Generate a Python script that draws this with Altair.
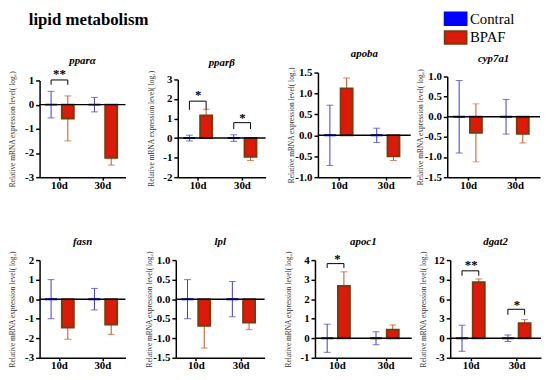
import altair as alt
import pandas as pd

SERIF = "Liberation Serif"

genes = ["pparα", "pparβ", "apoba", "cyp7a1", "fasn", "lpl", "apoc1", "dgat2"]
times = ["10d", "30d"]
groups = ["Contral", "BPAF"]

ctrl_mean = [[0, 0], [0, 0], [0, 0], [0, 0], [0, 0], [0, 0], [0, 0], [0, 0]]
ctrl_err = [[0.55, 0.30], [0.15, 0.17], [0.72, 0.17], [0.90, 0.43],
            [1.00, 0.55], [0.50, 0.45], [0.72, 0.33], [2.0, 0.5]]
bpaf_mean = [[-0.57, -2.2], [1.15, -0.95], [1.12, -0.50], [-0.40, -0.42],
             [-1.45, -1.30], [-0.68, -0.60], [2.68, 0.43], [8.6, 2.3]]
bpaf_err = [[0.93, 0.30], [0.32, 0.20], [0.25, 0.10], [0.72, 0.23],
            [0.60, 0.50], [0.57, 0.18], [0.72, 0.25], [0.50, 0.55]]

y_domains = [[-3, 1], [-2, 3], [-1.0, 1.5], [-1.5, 1.0],
             [-3, 2], [-1.5, 1.0], [-1, 4], [-3, 12]]
y_ticks = [[-3, -2, -1, 0, 1], [-2, -1, 0, 1, 2, 3],
           [-1.0, -0.5, 0, 0.5, 1.0, 1.5], [-1.5, -1.0, -0.5, 0, 0.5, 1.0],
           [-3, -2, -1, 0, 1, 2], [-1.5, -1.0, -0.5, 0, 0.5, 1.0],
           [-1, 0, 1, 2, 3, 4], [-3, 0, 3, 6, 9, 12]]
y_decimals = [0, 0, 1, 1, 0, 1, 0, 0]

sig_gene = ["pparα", "pparβ", "pparβ", "apoc1", "dgat2", "dgat2"]
sig_time = ["10d", "10d", "30d", "10d", "10d", "30d"]
sig_label = ["**", "*", "*", "*", "**", "*"]
sig_top = [1.02, 1.89, 0.79, 3.82, 10.35, 4.45]
sig_foot = [0.82, 1.45, 0.46, 3.60, 9.60, 3.60]
sig_star = [1.25, 2.20, 1.05, 4.05, 11.2, 5.1]

YTITLE = "Relative mRNA expression level( log\u2082)"


def make_panel(i, w, H, h, toff):
    g = genes[i]
    rows = []
    for j, t in enumerate(times):
        for grp, m, e in (("Contral", ctrl_mean[i][j], ctrl_err[i][j]),
                          ("BPAF", bpaf_mean[i][j], bpaf_err[i][j])):
            rows.append({"time": t, "group": grp, "mean": m, "base": 0,
                         "lo": m - e, "hi": m + e})
    df = pd.DataFrame(rows)

    dec = y_decimals[i]
    lab = "(datum.value < 0 ? '-' : '') + format(abs(datum.value), '.%df')" % dec
    y_scale = alt.Scale(domain=y_domains[i], range=[H, H - h], nice=False, zero=False)
    y_axis = alt.Axis(title=YTITLE, values=y_ticks[i], labelExpr=lab,
                      labelFont=SERIF, labelFontSize=11, labelFontWeight="bold",
                      labelColor="black", domainColor="black", domainWidth=1.5,
                      tickColor="black", tickWidth=1.5, tickSize=4, labelPadding=2,
                      minExtent=18, maxExtent=18, titleFont=SERIF, titleFontSize=7.5,
                      titleFontWeight="normal", titleColor="#333333",
                      titlePadding=5, grid=False)
    x_enc = alt.X("time:N", sort=times,
                  scale=alt.Scale(domain=times, paddingInner=0.34,
                                  paddingOuter=0.16, align=0.4),
                  axis=alt.Axis(title=None, labelAngle=0, labelFont=SERIF,
                                labelFontSize=11, labelFontWeight="bold",
                                labelColor="black", domainColor="black",
                                domainWidth=1.5, tickColor="black", tickWidth=1.5,
                                tickSize=3, labelPadding=-1, grid=False))
    xo_enc = alt.XOffset("group:N", sort=groups,
                         scale=alt.Scale(domain=groups, paddingInner=0.29,
                                         paddingOuter=0))

    def Y(field):
        return alt.Y(field, scale=y_scale, axis=y_axis, title=YTITLE)

    base = alt.Chart(df)
    layers = []
    for grp, col in (("Contral", "#3c3cc8"), ("BPAF", "#c8501e")):
        sub = base.transform_filter(alt.datum.group == grp)
        layers.append(sub.mark_rule(color=col, strokeWidth=1).encode(
            x=x_enc, xOffset=xo_enc, y=Y("lo:Q"), y2="hi:Q"))
        layers.append(sub.mark_tick(color=col, thickness=1, size=7).encode(
            x=x_enc, xOffset=xo_enc, y=Y("lo:Q")))
        layers.append(sub.mark_tick(color=col, thickness=1, size=7).encode(
            x=x_enc, xOffset=xo_enc, y=Y("hi:Q")))

    leg = alt.Legend(title=None, orient="none", legendX=413, legendY=-63,
                     labelFont=SERIF, labelFontSize=15, labelColor="black",
                     symbolType="M-1.47,-0.85H1.47V0.85H-1.47Z", symbolSize=225,
                     symbolStrokeWidth=2, rowPadding=-3, labelOffset=6)
    layers.append(base.mark_bar(strokeWidth=2).encode(
        x=x_enc, xOffset=xo_enc, y=Y("mean:Q"), y2="base:Q",
        fill=alt.Fill("group:N", sort=groups,
                      scale=alt.Scale(domain=groups, range=["#0000ff", "#dd1a0a"]),
                      legend=leg),
        stroke=alt.Stroke("group:N", sort=groups,
                          scale=alt.Scale(domain=groups, range=["#0000ff", "#7a3a0c"]),
                          legend=leg)))

    zero = alt.Chart(pd.DataFrame({"z": [0]})).mark_rule(
        color="black", strokeWidth=1.5).encode(y=Y("z:Q"))
    layers.append(zero)

    idx = [k for k, sg in enumerate(sig_gene) if sg == g]
    if idx:
        brows = []
        srows = []
        for k in idx:
            bid = "b%d" % k
            brows += [
                {"id": bid, "o": 0, "time": sig_time[k], "group": "Contral", "v": sig_foot[k]},
                {"id": bid, "o": 1, "time": sig_time[k], "group": "Contral", "v": sig_top[k]},
                {"id": bid, "o": 2, "time": sig_time[k], "group": "BPAF", "v": sig_top[k]},
                {"id": bid, "o": 3, "time": sig_time[k], "group": "BPAF", "v": sig_foot[k]},
            ]
            srows.append({"time": sig_time[k], "label": sig_label[k], "v": sig_star[k]})
        layers.append(alt.Chart(pd.DataFrame(brows)).mark_line(
            color="black", strokeWidth=1).encode(
            x=x_enc, xOffset=xo_enc, y=Y("v:Q"), detail="id:N", order="o:Q"))
        layers.append(alt.Chart(pd.DataFrame(srows)).mark_text(
            font=SERIF, fontSize=13, fontWeight="bold", color="black",
            baseline="middle").encode(x=x_enc, y=Y("v:Q"), text="label:N"))

    title = alt.TitleParams(text=g, font=SERIF, fontSize=11,
                            fontStyle="italic", fontWeight="bold", color="black",
                            offset=toff, anchor="middle")
    return alt.layer(*layers).properties(width=w, height=H, title=title)


H1 = 106
H2 = 100
row1 = alt.hconcat(
    alt.hconcat(make_panel(0, 87, H1, 98, 2.5), make_panel(1, 89, H1, 99, 2),
                make_panel(2, 94, H1, 106, 8), spacing=20),
    make_panel(3, 94, H1, 102, 5), spacing=4,
    title=alt.TitleParams("lipid metabolism", anchor="start", font=SERIF,
                          fontSize=17, fontWeight="bold", color="black",
                          dx=20, offset=19.5))
row2 = alt.hconcat(
    alt.hconcat(make_panel(4, 87, H2, 99, 4), make_panel(5, 90, H2, 99, 4),
                make_panel(6, 98, H2, 99, 4), spacing=18),
    make_panel(7, 92, H2, 99, 4), spacing=6)

chart = alt.vconcat(row1, row2, spacing=46).properties(
    padding=0,
).configure_view(stroke=None)

chart.save("out.html", embed_options={"renderer": "svg", "actions": False})
